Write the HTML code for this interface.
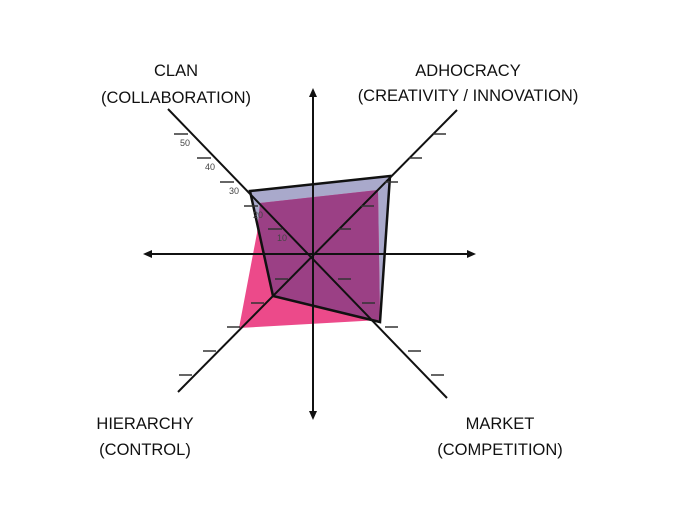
<!DOCTYPE html>
<html><head><style>body{margin:0;background:#fff}svg{display:block}</style></head>
<body>
<svg width="674" height="519" viewBox="0 0 674 519" xmlns="http://www.w3.org/2000/svg" font-family="Liberation Sans, sans-serif">
<defs><clipPath id="pk"><polygon points="260,203 378,190 380,320 239,328 257,233"/></clipPath></defs>
<polygon points="250,191 390,176 380,322 273,296" fill="#a9a9cb"/>
<polygon points="260,203 378,190 380,320 239,328 257,233" fill="#ec4a8a"/>
<polygon points="250,191 390,176 380,322 273,296" fill="#9b4085" clip-path="url(#pk)"/>
<g stroke="#111" stroke-width="2" fill="none">
<line x1="147" y1="254" x2="472" y2="254"/>
<line x1="313" y1="94" x2="313" y2="414"/>
<line x1="168" y1="109" x2="447" y2="398"/>
<line x1="178" y1="392" x2="457" y2="110"/>
<polygon points="250,191 390,176 380,322 273,296" stroke-width="2.5"/>
</g>
<g fill="#111">
<polygon points="143,254 152,250 152,258"/>
<polygon points="476,254 467,250 467,258"/>
<polygon points="313,88 309,97 317,97"/>
<polygon points="313,420 309,411 317,411"/>
</g>
<g stroke="#333" stroke-width="1.5">
<line x1="268" y1="229" x2="282" y2="229"/><line x1="244" y1="206" x2="258" y2="206"/><line x1="220" y1="182" x2="234" y2="182"/><line x1="197" y1="158" x2="211" y2="158"/><line x1="174" y1="134" x2="188" y2="134"/>
<line x1="338" y1="229" x2="351" y2="229"/><line x1="361" y1="206" x2="374" y2="206"/><line x1="385" y1="182" x2="398" y2="182"/><line x1="409" y1="158" x2="422" y2="158"/><line x1="433" y1="134" x2="446" y2="134"/>
<line x1="338" y1="279" x2="351" y2="279"/><line x1="362" y1="303" x2="375" y2="303"/><line x1="385" y1="327" x2="398" y2="327"/><line x1="408" y1="351" x2="421" y2="351"/><line x1="431" y1="375" x2="444" y2="375"/>
<line x1="275" y1="279" x2="288" y2="279"/><line x1="251" y1="303" x2="264" y2="303"/><line x1="227" y1="327" x2="240" y2="327"/><line x1="203" y1="351" x2="216" y2="351"/><line x1="179" y1="375" x2="192" y2="375"/>
</g>
<g font-size="9" fill="#444">
<text x="277" y="241">10</text><text x="253" y="218">20</text><text x="229" y="194">30</text><text x="205" y="170">40</text><text x="180" y="146">50</text>
</g>
<g font-size="16.5" fill="#111" text-anchor="middle">
<text x="176" y="76">CLAN</text><text x="176" y="103">(COLLABORATION)</text>
<text x="468" y="76">ADHOCRACY</text><text x="468" y="101">(CREATIVITY / INNOVATION)</text>
<text x="145" y="429">HIERARCHY</text><text x="145" y="455">(CONTROL)</text>
<text x="500" y="429">MARKET</text><text x="500" y="455">(COMPETITION)</text>
</g>
</svg>
</body></html>
